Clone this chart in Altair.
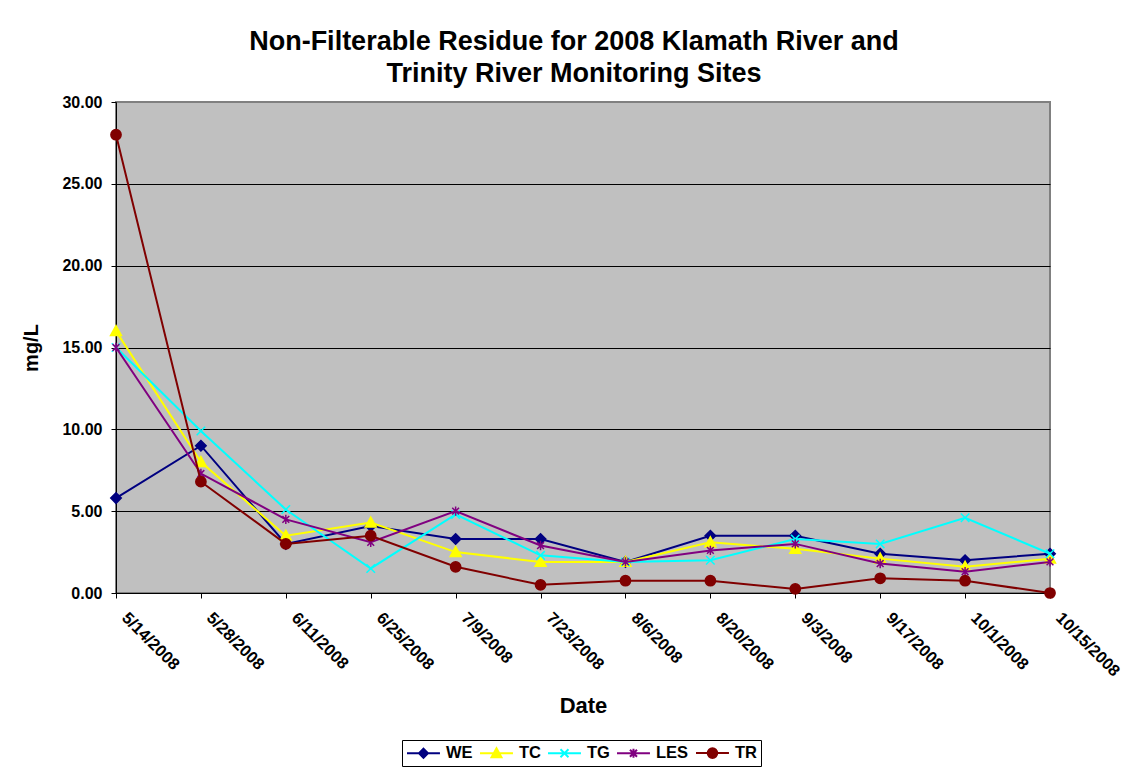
import altair as alt
import pandas as pd

# ---------------- data ----------------
dates = ["5/14/2008", "5/28/2008", "6/11/2008", "6/25/2008", "7/9/2008", "7/23/2008",
         "8/6/2008", "8/20/2008", "9/3/2008", "9/17/2008", "10/1/2008", "10/15/2008"]
series_names = ["WE", "TC", "TG", "LES", "TR"]
we = [5.8, 9.0, 3.0, 4.1, 3.3, 3.3, 1.9, 3.5, 3.5, 2.4, 2.0, 2.4]
tc = [16.0, 8.0, 3.5, 4.3, 2.5, 1.9, 1.9, 3.1, 2.7, 2.1, 1.6, 2.1]
tg = [15.0, 9.9, 5.1, 1.5, 4.8, 2.3, 1.9, 2.0, 3.3, 3.0, 4.6, 2.4]
les = [15.0, 7.3, 4.5, 3.1, 5.0, 2.9, 1.9, 2.6, 3.0, 1.8, 1.3, 1.9]
tr = [28.0, 6.8, 3.0, 3.5, 1.6, 0.5, 0.75, 0.75, 0.25, 0.9, 0.75, 0.0]
y_ticks = [0, 5, 10, 15, 20, 25, 30]

values = {"WE": we, "TC": tc, "TG": tg, "LES": les, "TR": tr}
ms = [int(pd.Timestamp(pd.to_datetime(d, format="%m/%d/%Y")).value // 10**6) for d in dates]
rows = []
for s in series_names:
    for t, v in zip(ms, values[s]):
        rows.append({"date": t, "value": v, "series": s})
df = pd.DataFrame(rows)

# ---------------- styles ----------------
colors = ["#000080", "#FFFF00", "#00FFFF", "#800080", "#800000"]
marker_shape = {
    "WE": "M0,-1L1,0L0,1L-1,0Z",
    "TC": "M0,-1L1,0.8L-1,0.8Z",
    "TG": "M-1,-1L1,1M-1,1L1,-1",
    "LES": "M-0.8,-0.8L0.8,0.8M-0.8,0.8L0.8,-0.8M0,-1.1L0,1.1",
    "TR": "circle",
}
marker_size = {"WE": 110, "TC": 120, "TG": 72, "LES": 72, "TR": 105}
legend_shapes = [
    "M-1,0H3.12M1.06,-0.56L1.62,0L1.06,0.56L0.5,0Z",
    "M-1,0H3.12M1.06,-0.62L1.68,0.5L0.44,0.5Z",
    "M-1,0H3.12M0.56,-0.5L1.56,0.5M0.56,0.5L1.56,-0.5",
    "M-1,0H3.12M0.62,-0.44L1.5,0.44M0.62,0.44L1.5,-0.44M1.06,-0.56L1.06,0.56",
    "M-1,0H3.12M1.66,0A0.6,0.6 0 1,1 0.46,0A0.6,0.6 0 1,1 1.66,0Z",
]
FONT = "Liberation Sans"

x_enc = alt.X(
    "date:T",
    scale=alt.Scale(type="utc", domain=[ms[0], ms[-1]], nice=False),
    axis=alt.Axis(
        values=ms,
        labelExpr="utcFormat(datum.value, '%-m/%-d/%Y')",
        labelAngle=45, labelAlign="left", labelBaseline="middle",
        labelFlush=False, labelOverlap=False, labelBound=False,
        labelFontSize=16.5, labelOffset=8,
        tickSize=5, labelPadding=17, grid=False,
        title="Date", titleFontSize=22, titlePadding=16,
    ),
)
y_enc = alt.Y(
    "value:Q",
    scale=alt.Scale(domain=[0, 30], nice=False, zero=True),
    axis=alt.Axis(
        values=y_ticks, format=".2f", tickSize=5, labelPadding=9,
        grid=True, gridColor="black", gridWidth=1,
        gridOpacity={"condition": {"test": "datum.value === 30", "value": 0}, "value": 1},
        title="mg/L", titleFontSize=20, titlePadding=20,
    ),
)
fill_scale = alt.Scale(domain=series_names, range=colors)

leg = alt.Legend(
    title=None, orient="none", legendX=286, legendY=638, direction="horizontal",
    symbolSize=256, symbolStrokeWidth=2, labelOffset=22, columnPadding=3,
    padding=4, strokeColor="black", fillColor="white",
    labelFont=FONT, labelFontSize=16.5, labelFontWeight="bold", labelColor="black",
)

base = alt.Chart(df)
layers = []
legend_layer = base.transform_filter("datum.value > 1000").mark_point(
    filled=True, strokeWidth=2, opacity=1
).encode(
    x=x_enc, y=y_enc,
    fill=alt.Fill("series:N", scale=fill_scale, legend=leg),
    stroke=alt.Stroke("series:N", scale=fill_scale, legend=leg),
    shape=alt.Shape("series:N", scale=alt.Scale(domain=series_names, range=legend_shapes), legend=leg),
)
layers.append(legend_layer)

for s in series_names:
    sub = base.transform_filter(alt.datum.series == s)
    layers.append(
        sub.mark_line(strokeWidth=2).encode(
            x=x_enc, y=y_enc,
            stroke=alt.Stroke("series:N", scale=fill_scale),
        )
    )
    layers.append(
        sub.mark_point(filled=True, strokeWidth=1.5, opacity=1).encode(
            x=x_enc, y=y_enc,
            fill=alt.Fill("series:N", scale=fill_scale),
            stroke=alt.Stroke("series:N", scale=fill_scale),
            shape=alt.value(marker_shape[s]),
            size=alt.value(marker_size[s]),
        )
    )

chart = alt.layer(*layers).properties(
    width=934, height=491,
    background="white",
    padding={"left": 116, "top": 102, "right": 88, "bottom": 178},
    autosize=alt.AutoSizeParams(type="none"),
    title=alt.TitleParams(
        text=["Non-Filterable Residue for 2008 Klamath River and",
              "Trinity River Monitoring Sites"],
        fontSize=27, fontWeight="bold", font=FONT, lineHeight=32,
        anchor="middle", dx=-9, offset=6, color="black",
    ),
).configure_view(
    fill="#C0C0C0", stroke="#808080", strokeWidth=2,
).configure_axis(
    labelFont=FONT, labelFontSize=16, labelFontWeight="bold", labelColor="black",
    titleFont=FONT, titleFontWeight="bold", titleColor="black",
    domainColor="black", domainWidth=1, tickColor="black", tickWidth=1,
)

chart.save("out.html", embed_options={"renderer": "svg", "actions": False})
